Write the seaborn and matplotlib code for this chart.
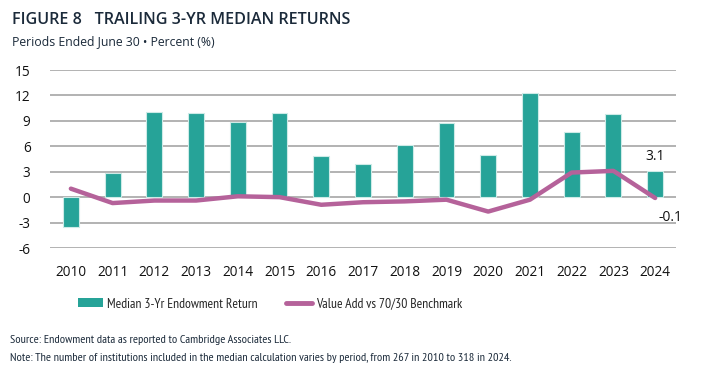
import numpy as np
import pandas as pd
import matplotlib.pyplot as plt
import seaborn as sns
from matplotlib.patches import Patch
from matplotlib.lines import Line2D

# data
years = ['2010', '2011', '2012', '2013', '2014', '2015', '2016', '2017',
         '2018', '2019', '2020', '2021', '2022', '2023', '2024']
median_return = [-3.5, 2.9, 10.0, 9.9, 8.9, 9.9, 4.8, 3.9,
                 6.1, 8.8, 5.0, 12.3, 7.7, 9.8, 3.1]
value_add = [1.0, -0.7, -0.4, -0.4, 0.1, 0.0, -0.9, -0.6,
             -0.5, -0.3, -1.7, -0.3, 2.9, 3.1, -0.1]
y_ticks = [-6, -3, 0, 3, 6, 9, 12, 15]

teal = '#26A398'
purple = '#B5629A'
navy = '#1B2A3A'

sns.set_style('white')
plt.rcParams['font.family'] = ['Open Sans', 'DejaVu Sans']
narrow = ['PT Sans Narrow', 'DejaVu Sans']

df = pd.DataFrame({'year': years, 'ret': median_return, 'va': value_add})

fig = plt.figure(figsize=(7.03, 3.83), dpi=100)
ax = fig.add_axes([50 / 703, 1 - 248 / 383, 626 / 703, 178 / 383])

sns.barplot(data=df, x='year', y='ret', color=teal, width=0.38,
            edgecolor='#CDEBE7', linewidth=0.8, saturation=1, ax=ax, zorder=3)
sns.lineplot(x=np.arange(len(years)), y=df['va'], color=purple, linewidth=3.2,
             ax=ax, zorder=4)

ax.set_xlim(-0.5, len(years) - 0.5)
ax.set_ylim(-6, 15)
ax.set_yticks(y_ticks)
ax.set_yticklabels([str(t) for t in y_ticks])
ax.yaxis.grid(True, color='#A6A6A6', linewidth=1.2, zorder=0)
ax.set_axisbelow(True)
for s in ax.spines.values():
    s.set_visible(False)
ax.set_xlabel('')
ax.set_ylabel('')
ax.tick_params(axis='y', length=0, pad=14, labelsize=9.8, labelcolor='#111111')
ax.tick_params(axis='x', length=0, pad=12, labelsize=9.8, labelcolor='#111111')

# end labels
ax.annotate(f'{median_return[-1]:.1f}', (len(years) - 1, median_return[-1]),
            xytext=(0, 5), textcoords='offset points', ha='center', va='bottom',
            fontsize=10, color='#111111')
ax.annotate(f'{value_add[-1]:.1f}', (len(years) - 1, value_add[-1]),
            xytext=(11, -9), textcoords='offset points', ha='center', va='top',
            fontsize=10, color='#111111')

handles = [Patch(facecolor=teal, edgecolor='none'),
           Line2D([0], [0], color=purple, linewidth=3.5)]
labels = ['Median 3-Yr Endowment Return', 'Value Add vs 70/30 Benchmark']
fig.legend(handles, labels, loc='center', bbox_to_anchor=(270 / 703, 1 - 304 / 383),
           ncol=2, frameon=False, handlelength=1.85, handleheight=0.6,
           handletextpad=0.3, columnspacing=2.1,
           prop={'family': narrow, 'size': 9.8})

fig.text(12 / 703, 1 - 20 / 383, 'FIGURE 8   TRAILING 3-YR MEDIAN RETURNS',
         fontsize=11.6, color=navy, va='center', ha='left', weight='semibold')
fig.text(12 / 703, 1 - 42 / 383, 'Periods Ended June 30 \u2022 Percent (%)',
         fontsize=8.8, color=navy, va='center', ha='left')
fig.text(10 / 703, 1 - 340 / 383,
         'Source: Endowment data as reported to Cambridge Associates LLC.',
         fontsize=8.7, color=navy, va='center', ha='left', family=narrow)
fig.text(10 / 703, 1 - 358 / 383,
         'Note: The number of institutions included in the median calculation '
         'varies by period, from 267 in 2010 to 318 in 2024.',
         fontsize=8.7, color=navy, va='center', ha='left', family=narrow)

fig.savefig('out.png', dpi=100)
